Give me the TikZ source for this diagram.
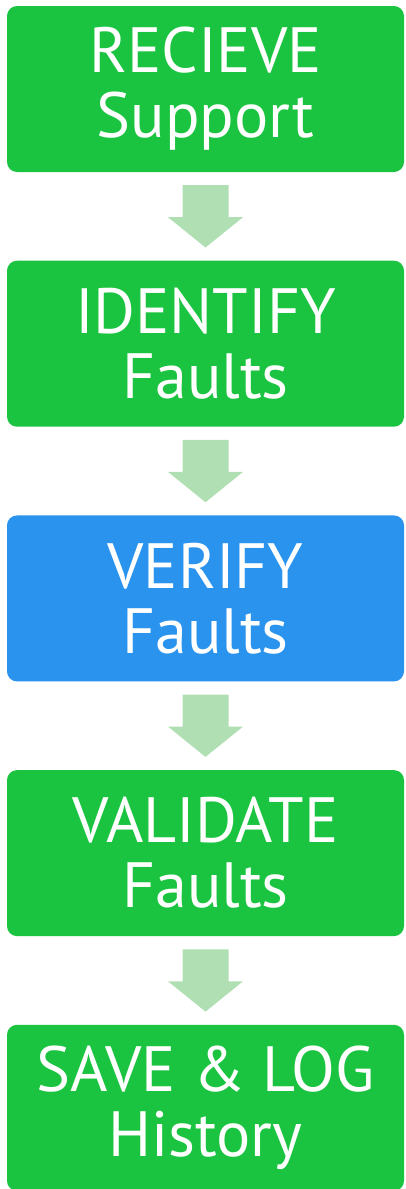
\documentclass[tikz,border=0pt]{standalone}
\usepackage{fontspec}
\setmainfont{PT Sans}
\usetikzlibrary{positioning,calc}

\definecolor{stagegreen}{RGB}{27,196,64}
\definecolor{stageblue}{RGB}{42,147,238}
\definecolor{arrowgreen}{RGB}{175,223,179}

\tikzset{
  stage/.style={fill=stagegreen, rounded corners=10pt, minimum width=397pt,
    minimum height=166pt, inner sep=0pt, text=white, align=center,
    font=\fontsize{64}{65}\selectfont},
  current/.style={stage, fill=stageblue},
  flowarrow/.style={fill=arrowgreen}
}

% fat arrow from the bottom of one stage to the top of the next
\newcommand{\stagearrow}[2]{%
  \fill[flowarrow] ($(#1.south)+(-23,-13)$) -- ($(#1.south)+(23,-13)$)
    -- ($(#1.south)+(23,-45)$) -- ($(#1.south)+(37.5,-45)$)
    -- ($(#2.north)+(0,13)$)
    -- ($(#1.south)+(-37.5,-45)$) -- ($(#1.south)+(-23,-45)$) -- cycle;}

\begin{document}
\begin{tikzpicture}[x=1pt,y=1pt]
\useasboundingbox (0,0) rectangle (405,-1189);

\node[stage] (receive) at (205.5,-89) {RECIEVE\\Support};
\node[stage, below=88.3pt of receive] (identify) {IDENTIFY\\Faults};
\node[current, below=88.3pt of identify] (verify) {VERIFY\\Faults};
\node[stage, below=88.3pt of verify] (validate) {VALIDATE\\Faults};
\node[stage, below=88.3pt of validate] (save) {SAVE \& LOG\\History};

\stagearrow{receive}{identify}
\stagearrow{identify}{verify}
\stagearrow{verify}{validate}
\stagearrow{validate}{save}

\end{tikzpicture}
\end{document}
